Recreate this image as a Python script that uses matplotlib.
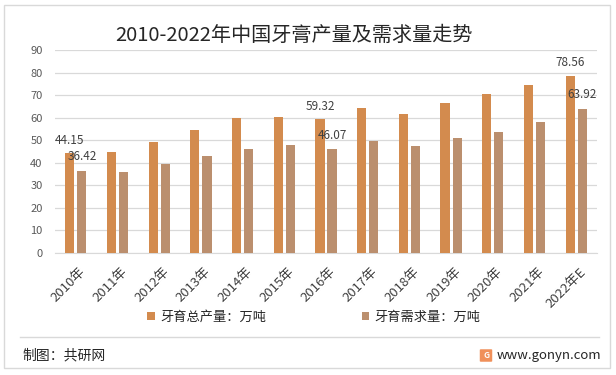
import matplotlib
matplotlib.use("Agg")
import matplotlib.pyplot as plt
from matplotlib.patches import Rectangle, FancyBboxPatch
import numpy as np

plt.rcParams['font.family'] = ['Noto Sans CJK SC', 'DejaVu Sans']

# data
years = ['2010年', '2011年', '2012年', '2013年', '2014年', '2015年', '2016年',
         '2017年', '2018年', '2019年', '2020年', '2021年', '2022年E']
production = [44.15, 44.7, 49.2, 54.4, 59.9, 60.4, 59.32,
              64.3, 61.6, 66.5, 70.5, 74.5, 78.56]
demand = [36.42, 35.9, 39.6, 43.0, 46.1, 47.9, 46.07,
          49.6, 47.4, 51.0, 53.6, 58.2, 63.92]
labelled = [0, 6, 12]
yticks = [0, 10, 20, 30, 40, 50, 60, 70, 80, 90]

ORANGE = '#D38B4E'
BROWN = '#BB8F6E'
GRID = '#D9D9D9'

W, H = 616, 375
fig = plt.figure(figsize=(W / 100, H / 100), dpi=100)
fig.patch.set_facecolor('white')

ax = fig.add_axes([55 / W, 1 - 252.7 / H, (597 - 55) / W, (252.7 - 50.2) / H])
x = np.arange(len(years))
off, bw = 0.145, 0.22
b1 = ax.bar(x - off, production, width=bw, color=ORANGE, zorder=3,
            label='牙育总产量：万吨')
b2 = ax.bar(x + off, demand, width=bw, color=BROWN, zorder=3,
            label='牙育需求量：万吨')

for i in labelled:
    ax.annotate(f'{production[i]:.2f}', (x[i] - off, production[i]),
                xytext=(0, 9.5), textcoords='offset points',
                ha='center', va='center', fontsize=8.5, color='#404040')
    ax.annotate(f'{demand[i]:.2f}', (x[i] + off, demand[i]),
                xytext=(0, 10), textcoords='offset points',
                ha='center', va='center', fontsize=8.5, color='#404040')

ax.set_xlim(-0.5, len(years) - 0.5)
ax.set_ylim(0, 90)
ax.set_yticks(yticks)
ax.yaxis.grid(True, color=GRID, linewidth=0.9, zorder=0)
ax.set_axisbelow(True)
for s in ['top', 'right', 'left']:
    ax.spines[s].set_visible(False)
ax.spines['bottom'].set_color(GRID)
ax.tick_params(axis='both', length=0, labelsize=8, labelcolor='#595959')
ax.tick_params(axis='y', pad=9)
ax.set_xticks(x + 0.08)
ax.set_xticklabels(years, rotation=45, ha='right', rotation_mode='anchor',
                   fontsize=9.5, color='#404040')
ax.tick_params(axis='x', pad=9)

fig.text(294 / W, 1 - 35 / H, '2010-2022年中国牙膏产量及需求量走势',
         ha='center', va='center', fontsize=14.5, color='#262626')

fig.legend(handles=[b1, b2], loc='center', bbox_to_anchor=(314 / W, 1 - 317 / H),
           ncol=2, frameon=False, fontsize=9.5, handlelength=0.6,
           handleheight=0.6, handletextpad=0.4, columnspacing=7.2,
           labelcolor='#262626')

# footer
fig.add_artist(plt.Line2D([20 / W, 599 / W], [1 - 337 / H, 1 - 337 / H],
                          color=GRID, linewidth=1))
fig.text(22 / W, 1 - 355 / H, '制图：共研网', ha='left', va='center',
         fontsize=10, color='#262626')
fig.add_artist(FancyBboxPatch((481 / W, 1 - 361 / H), 10 / W, 11 / H,
                              boxstyle='round,pad=0.002', transform=fig.transFigure,
                              facecolor='#F0905A', edgecolor='none'))
fig.text(486 / W, 1 - 355.5 / H, 'G', ha='center', va='center', fontsize=6,
         color='white', fontweight='bold')
fig.text(497 / W, 1 - 355 / H, 'www.gonyn.com', ha='left', va='center',
         fontsize=9.5, color='#262626')

# outer border
fig.add_artist(Rectangle((4 / W, 1 - 368 / H), 606 / W, 363 / H,
                         transform=fig.transFigure, fill=False,
                         edgecolor=GRID, linewidth=1))

fig.savefig('out.png', dpi=100)
